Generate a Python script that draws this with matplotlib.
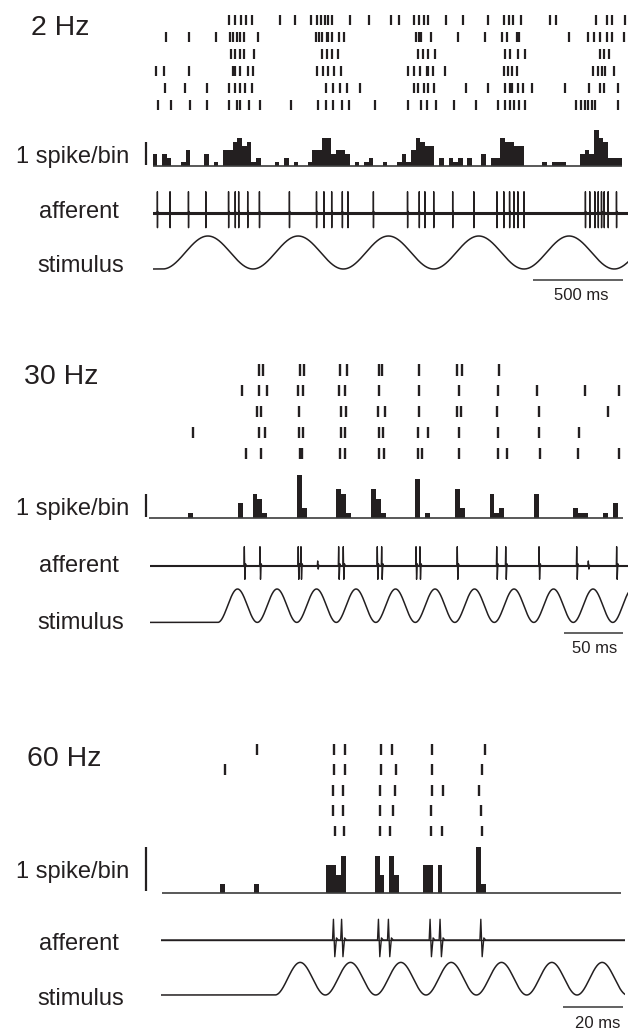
import numpy as np
import matplotlib
matplotlib.use('Agg')
import matplotlib.pyplot as plt

plt.rcParams['font.family'] = ['Liberation Sans', 'DejaVu Sans']

W, H = 631, 1029
INK = '#231f20'

# ---------------- 2 Hz ----------------
# spike times (ms) for each trial, top row first
raster_2hz = [
    [424, 453, 487, 517, 550, 707, 790, 874, 911, 932, 952, 971, 991, 1092, 1198, 1318, 1364,
     1448, 1476, 1503, 1522, 1624, 1717, 1856, 1944, 1972, 1994, 2041, 2198, 2235, 2457, 2513,
     2541, 2614],
    [74, 203, 352, 426, 446, 467, 484, 507, 581, 902, 920, 939, 963, 972, 994, 1031, 1059, 1457,
     1472, 1485, 1541, 1689, 1842, 1933, 1963, 2018, 2031, 2303, 2411, 2442, 2476, 2513, 2541, 2611],
    [433, 456, 481, 507, 559, 939, 963, 994, 1028, 1470, 1494, 1522, 1563, 1952, 1976, 2022, 2063,
     2476, 2500, 2526],
    [17, 63, 203, 444, 457, 484, 526, 553, 911, 942, 972, 1003, 1041, 1414, 1448, 1481, 1517, 1526,
     1550, 1620, 1944, 1967, 1989, 2018, 2439, 2463, 2489, 2507, 2553],
    [68, 179, 300, 420, 457, 484, 509, 550, 957, 1000, 1037, 1078, 1146, 1448, 1470, 1503, 1526,
     1556, 1735, 1859, 1948, 1981, 1989, 2022, 2050, 2100, 2285, 2414, 2476, 2500, 2574],
    [31, 100, 207, 300, 420, 467, 484, 531, 592, 767, 914, 957, 1000, 1050, 1087, 1229, 1414, 1485,
     1518, 1568, 1667, 1791, 1914, 1948, 1981, 2003, 2026, 2063, 2346, 2370, 2396, 2411, 2430, 2448,
     2574],
]
# spike counts per 26 ms bin, summed over trials
hist_2hz = [
    3, 0, 3, 2, 0, 0, 1, 4, 0, 0,
    0, 3, 0, 1, 0, 4, 4, 6, 7, 5,
    6, 1, 2, 0, 0, 0, 1, 0, 2, 0,
    1, 0, 0, 1, 4, 4, 7, 7, 3, 4,
    4, 3, 0, 1, 0, 1, 2, 0, 0, 1,
    0, 0, 1, 3, 1, 4, 7, 6, 5, 5,
    0, 2, 0, 2, 1, 2, 0, 2, 0, 0,
    3, 0, 2, 2, 7, 6, 6, 5, 5, 0,
    0, 0, 0, 1, 0, 1, 1, 1, 0, 0,
    0, 3, 4, 3, 9, 7, 6, 2, 2, 2,
]
afferent_2hz = [26, 96, 198, 294, 420, 457, 476, 526, 591, 757, 907, 948, 991, 1050, 1081, 1222,
                1411, 1476, 1507, 1556, 1661, 1778, 1906, 1944, 1976, 2000, 2022, 2056, 2396, 2420,
                2448, 2467, 2485, 2500, 2522, 2568]

# ---------------- 30 Hz ----------------
raster_30hz = [
    [92.0, 95.1, 126.6, 130.2, 160.3, 166.0, 193.2, 195.5, 227.0, 259.3, 263.0, 294.5],
    [77.4, 92.2, 98.5, 125.1, 129.4, 159.5, 164.6, 193.2, 227.0, 260.8, 293.4, 326.3, 367.1, 395.8],
    [90.0, 93.4, 125.7, 160.9, 165.4, 192.2, 198.3, 227.0, 259.3, 262.4, 292.6, 328.3, 386.5],
    [36.0, 92.0, 97.0, 125.7, 129.4, 160.9, 164.6, 193.2, 196.9, 225.9, 234.8, 260.8, 293.4, 328.3,
     362.0],
    [81.0, 93.4, 126.6, 128.5, 160.3, 164.6, 193.2, 197.7, 225.9, 229.3, 260.8, 293.4, 301.0, 329.1,
     361.4, 395.8],
]
# counts per 1/8-cycle bin (4.17 ms)
hist_30hz = [
    0, 0, 0, 0, 0, 0, 0, 0, 1, 0,
    0, 0, 0, 0, 0, 0, 0, 0, 3, 0,
    0, 5, 4, 1, 0, 0, 0, 0, 0, 0,
    9, 2, 0, 0, 0, 0, 0, 0, 6, 5,
    1, 0, 0, 0, 0, 6, 4, 1, 0, 0,
    0, 0, 0, 0, 8, 0, 1, 0, 0, 0,
    0, 0, 6, 2, 0, 0, 0, 0, 0, 5,
    1, 2, 0, 0, 0, 0, 0, 0, 5, 0,
    0, 0, 0, 0, 0, 0, 2, 1, 1, 0,
    0, 0, 1, 0, 3, 0,
]
afferent_30hz = [79.6, 92.8, 125.1, 127.4, 159.2, 163.1, 191.8, 195.5, 224.5, 227.8, 259.3, 292.6,
                 300.2, 328.3, 360.1, 393.8]
blips_30hz = [141.5, 369.9]

# ---------------- 60 Hz ----------------
raster_60hz = [
    [31.8, 57.4, 61.0, 72.9, 76.5, 89.7, 107.4],
    [21.3, 57.4, 61.0, 72.9, 77.8, 89.7, 106.3],
    [57.0, 60.3, 72.6, 77.6, 89.7, 93.6, 105.4],
    [57.0, 60.3, 72.6, 76.8, 89.4, 106.0],
    [57.7, 60.7, 72.6, 75.9, 89.4, 93.0, 106.3],
]
# counts per 1.6 ms bin
hist_60hz = [
    0, 0, 0, 0, 0, 0, 0, 0, 0, 0,
    0, 0, 1, 0, 0, 0, 0, 0, 0, 1,
    0, 0, 0, 0, 0, 0, 0, 0, 0, 0,
    0, 0, 0, 0, 3, 3, 2, 4, 0, 0,
    0, 0, 0, 0, 4, 2, 0, 4, 2, 0,
    0, 0, 0, 0, 3, 3, 0, 3, 0, 0,
    0, 0, 0, 0, 0, 5, 1, 0, 0, 0,
    0, 0, 0, 0, 0, 0, 0, 0, 0, 0,
    0, 0, 0, 0, 0, 0, 0, 0, 0, 0,
    0, 0, 0, 0, 0,
]
afferent_60hz = [57.2, 59.9, 72.1, 75.4, 89.2, 92.5, 106.0]

# one spike of the afferent recording: (ms from peak, height); negative part scaled per panel
SPIKE_SHAPE = [(-0.3, 0.0), (0.0, 1.0), (0.45, -1.0), (1.0, 0.1), (1.6, 0.0)]

panels = [
    dict(title='2 Hz', freq=2, onset=55.4, raster=raster_2hz, hist=hist_2hz, bin=26, bin0=0,
         afferent=afferent_2hz, blips=[], scale_ms=500, scale_txt='500 ms',
         x0=152.7, x1=628, pxms=0.1806,
         title_xy=(31, 35), rows=(19.7, 17.06), tick=10, tick_lw=1.6,
         hist_base=166, count_px=4.0, hist_top=126,
         aff_base=213.3, aff_up=21.6, aff_dn=14.4, aff_lw=2.2,
         stim_c=252.5, stim_amp=16.5, stim_x0=152.7,
         bar_y=280.3, bar_right=623.3, bar_txt=(581, 299.5),
         lab_y=(163.3, 218, 271.7)),
    dict(title='30 Hz', freq=30, onset=57.2, raster=raster_30hz, hist=hist_30hz, bin=100 / 24,
         bin0=-1.0, afferent=afferent_30hz, blips=blips_30hz, scale_ms=50, scale_txt='50 ms',
         x0=150, x1=628, pxms=1.185,
         title_xy=(24, 384.2), rows=(370, 20.8), tick=11.3, tick_lw=1.7,
         hist_base=517.7, count_px=4.8, hist_top=468,
         aff_base=565.7, aff_up=19, aff_dn=13.6, aff_lw=1.5,
         stim_c=605.7, stim_amp=16.7, stim_x0=150,
         bar_y=633.3, bar_right=623.3, bar_txt=(595, 653),
         lab_y=(515.5, 571.9, 629.3)),
    dict(title='60 Hz', freq=60, onset=37.85, raster=raster_60hz, hist=hist_60hz, bin=1.6, bin0=0.5,
         afferent=afferent_60hz, blips=[], scale_ms=20, scale_txt='20 ms',
         x0=160.7, x1=625, pxms=3.02,
         title_xy=(26.7, 766.2), rows=(749.3, 20.45), tick=10.7, tick_lw=1.7,
         hist_base=893.3, count_px=9.33, hist_top=840,
         aff_base=940, aff_up=20.7, aff_dn=16.7, aff_lw=1.0,
         stim_c=978.7, stim_amp=16.3, stim_x0=160.7,
         bar_y=1007.3, bar_right=623.3, bar_txt=(598, 1027.5),
         lab_y=(877.7, 949.5, 1004.7)),
]


def px_axes(fig, x0, x1, y_top, y_bot):
    ax = fig.add_axes([x0 / W, 1 - y_bot / H, (x1 - x0) / W, (y_bot - y_top) / H])
    ax.set_axis_off()
    return ax


def afferent_trace(spikes, blips, down, t_end):
    events = sorted([(t, 1.0) for t in spikes] + [(t, 0.25) for t in blips])
    tt, vv = [0.0], [0.0]
    for t, a in events:
        for dt, v in SPIKE_SHAPE:
            tt.append(t + dt)
            vv.append(a * (v if v >= 0 else v * down))
    tt.append(t_end)
    vv.append(0.0)
    return tt, vv


def fig_text(x, y, s, size, ha='left'):
    fig.text(x / W, 1 - y / H, s, fontsize=size, color=INK, ha=ha, va='baseline')


fig = plt.figure(figsize=(W / 100, H / 100), dpi=100)

for p in panels:
    x0, x1, k = p['x0'], p['x1'], p['pxms']
    t_end = (x1 - x0) / k
    n = len(p['raster'])
    ntr = n

    # raster
    r0, dr = p['rows']
    ax = px_axes(fig, x0, x1, r0 - dr / 2, r0 + dr * (n - 0.5))
    half = p['tick'] / 2 / dr
    for i, times in enumerate(p['raster']):
        ax.vlines(times, i - half, i + half, color=INK, lw=p['tick_lw'])
    ax.set_xlim(0, t_end)
    ax.set_ylim(n - 0.5, -0.5)

    # peri-stimulus histogram, in spikes per bin per trial
    unit_px = p['count_px'] * ntr
    ax = px_axes(fig, x0, x1, p['hist_top'], p['hist_base'])
    counts = np.array(p['hist'], dtype=float)
    edges = p['bin0'] + np.arange(len(counts)) * p['bin']
    ax.bar(edges, counts / ntr, width=p['bin'], align='edge', color=INK, linewidth=0)
    ax.plot([edges[0], edges[-1] + p['bin']], [0, 0], color='#3c3c3c', lw=1.2,
            clip_on=False, solid_capstyle='butt')
    sb_x = (146 - x0) / k
    ax.plot([sb_x, sb_x], [0.05, 1.0], color=INK, lw=1.6, clip_on=False, solid_capstyle='butt')
    ax.set_xlim(0, t_end)
    ax.set_ylim(0, (p['hist_base'] - p['hist_top']) / unit_px)

    # afferent recording
    up, dn = p['aff_up'], p['aff_dn']
    ax = px_axes(fig, x0, x1, p['aff_base'] - up - 3, p['aff_base'] + dn + 3)
    ax.axhline(0, color=INK, lw=p['aff_lw'])
    tt, vv = afferent_trace(p['afferent'], p['blips'], dn / up, t_end)
    ax.plot(tt, vv, color=INK, lw=1.0)
    ax.set_xlim(0, t_end)
    ax.set_ylim(-(dn + 3) / up, (up + 3) / up)

    # stimulus
    c, a = p['stim_c'], p['stim_amp']
    sx0 = p['stim_x0']
    ax = px_axes(fig, x0, x1, c - a - 3, c + a + 3)
    t = np.linspace((sx0 - x0) / k, t_end, 3000)
    s = np.where(t < p['onset'], -1.0,
                 -np.cos(2 * np.pi * p['freq'] * (t - p['onset']) / 1000.0))
    ax.plot(t, s, color=INK, lw=1.1)
    bar_right = (p['bar_right'] - x0) / k
    bar_y = -(p['bar_y'] - c) / a
    ax.plot([bar_right - p['scale_ms'], bar_right], [bar_y, bar_y], color='#555555', lw=1.3,
            clip_on=False, solid_capstyle='butt')
    ax.set_xlim(0, t_end)
    ax.set_ylim(-1 - 3 / a, 1 + 3 / a)

    # labels
    fig_text(*p['title_xy'], p['title'], 20.5)
    ly = p['lab_y']
    fig_text(16, ly[0], '1 spike/bin', 17)
    fig_text(38.5, ly[1], 'afferent', 17)
    fig_text(37, ly[2], 'stimulus', 17)
    fig_text(p['bar_txt'][0], p['bar_txt'][1], p['scale_txt'], 12, ha='center')

fig.savefig('out.png', dpi=100)
